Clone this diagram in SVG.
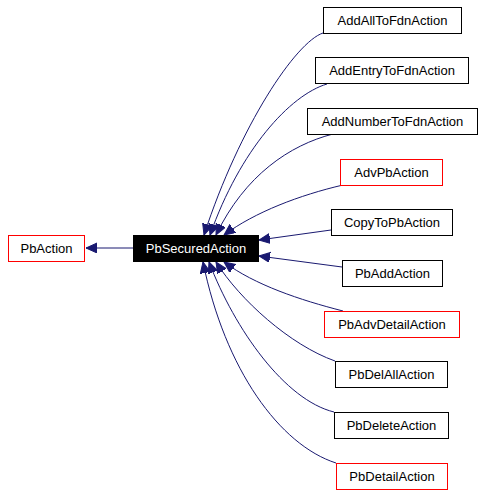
<svg xmlns="http://www.w3.org/2000/svg" width="483" height="496" viewBox="0 0 483 496">
<style>
.n rect{fill:#fff;stroke:#000;stroke-width:1}
.n.r rect{stroke:#ff0000}
.n.s rect{fill:#000}
.n text{font-family:"Liberation Sans",Arial,sans-serif;font-size:13px;text-anchor:middle;fill:#000}
.n.s text{fill:#fff}
.e path{fill:none;stroke:#191970;stroke-width:1;marker-end:url(#ah)}
</style>
<defs>
<marker id="ah" markerUnits="userSpaceOnUse" markerWidth="13" markerHeight="11" refX="11" refY="5" orient="auto">
<path d="M0,0 L11,5 L0,10 z" fill="#191970" stroke="#191970" stroke-width="1"/>
</marker>
</defs>
<rect width="483" height="496" fill="#fff"/>
<g id="edges" class="e">
<path d="M133,248 L86,248"/>
<path d="M323,33 C296,42 240,125 204,235"/>
<path d="M327,84 C290,95 240,150 210,235"/>
<path d="M333,134 C290,145 245,175 216,235"/>
<path d="M343,185 C300,195 255,212 224,235"/>
<path d="M331,230 L259,240"/>
<path d="M342,267 L259,256"/>
<path d="M343,311 C300,300 255,285 224,262"/>
<path d="M335,361 C290,345 240,300 216,262"/>
<path d="M334,412 C285,400 235,330 209,262"/>
<path d="M336,463 C280,445 225,370 203,262"/>
</g>
<g id="PbAction" class="n r"><rect x="8.5" y="235.5" width="76" height="26"/><text x="46.5" y="253">PbAction</text></g>
<g id="PbSecuredAction" class="n s"><rect x="133.5" y="235.5" width="125" height="26"/><text x="196" y="253">PbSecuredAction</text></g>
<g id="AddAllToFdnAction" class="n"><rect x="323.5" y="7.5" width="138" height="26"/><text x="392.5" y="25">AddAllToFdnAction</text></g>
<g id="AddEntryToFdnAction" class="n"><rect x="315.5" y="57.5" width="153" height="26"/><text x="392" y="75">AddEntryToFdnAction</text></g>
<g id="AddNumberToFdnAction" class="n"><rect x="307.5" y="108.5" width="170" height="26"/><text x="392.5" y="126">AddNumberToFdnAction</text></g>
<g id="AdvPbAction" class="n r"><rect x="340.5" y="159.5" width="102" height="26"/><text x="391.5" y="177">AdvPbAction</text></g>
<g id="CopyToPbAction" class="n"><rect x="331.5" y="209.5" width="121" height="26"/><text x="392" y="227">CopyToPbAction</text></g>
<g id="PbAddAction" class="n"><rect x="342.5" y="260.5" width="100" height="26"/><text x="392.5" y="278">PbAddAction</text></g>
<g id="PbAdvDetailAction" class="n r"><rect x="324.5" y="311.5" width="135" height="26"/><text x="392" y="329">PbAdvDetailAction</text></g>
<g id="PbDelAllAction" class="n"><rect x="335.5" y="361.5" width="112" height="26"/><text x="391.5" y="379">PbDelAllAction</text></g>
<g id="PbDeleteAction" class="n"><rect x="334.5" y="412.5" width="114" height="26"/><text x="391.5" y="430">PbDeleteAction</text></g>
<g id="PbDetailAction" class="n r"><rect x="336.5" y="463.5" width="111" height="26"/><text x="392" y="481">PbDetailAction</text></g>
</svg>
